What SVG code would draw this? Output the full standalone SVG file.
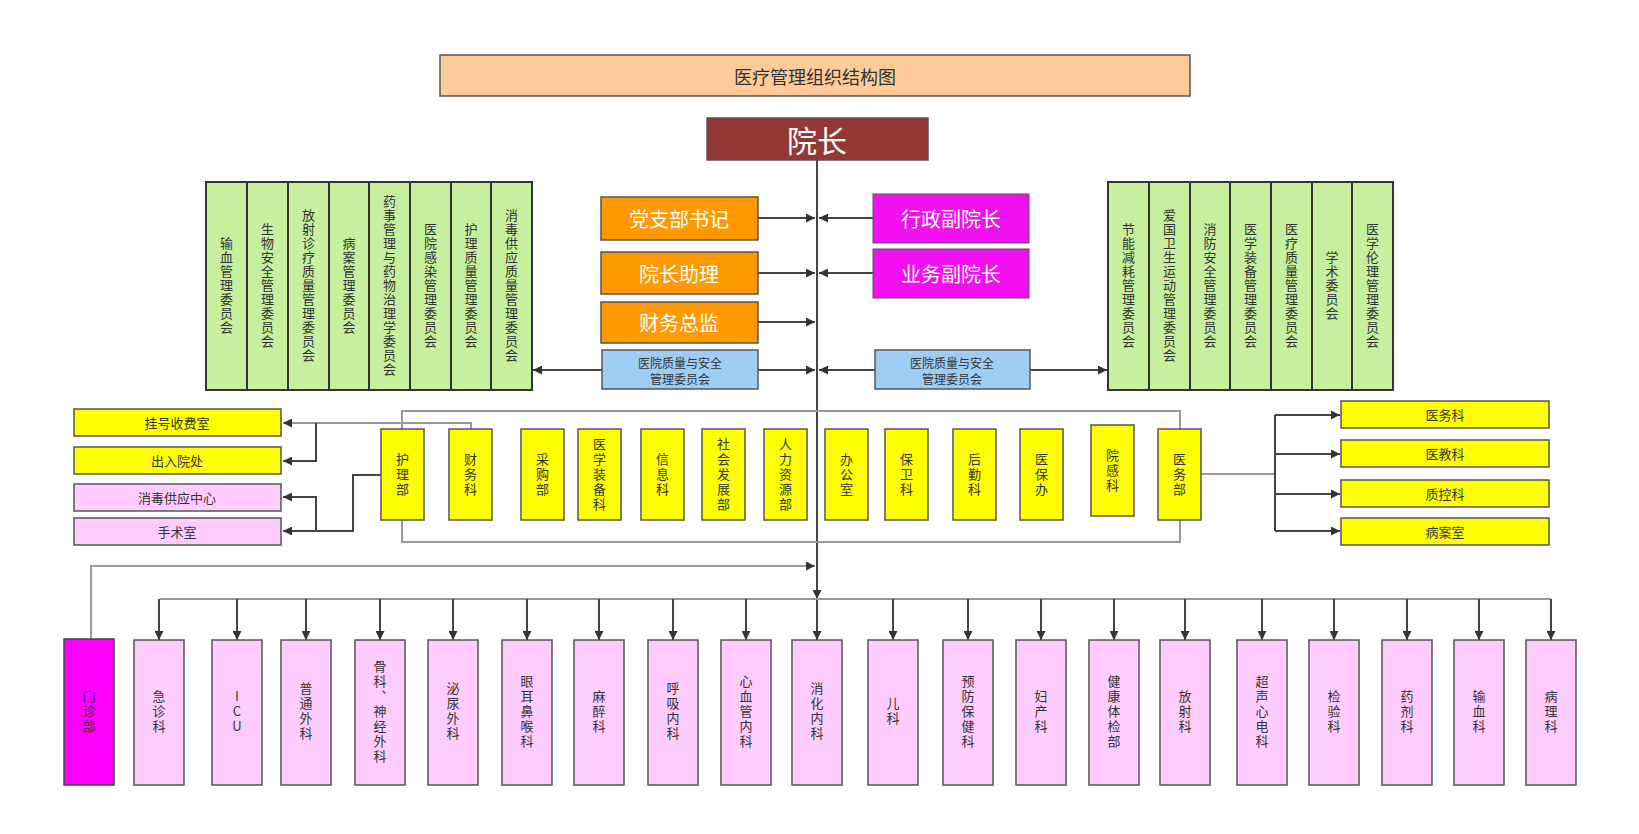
<svg xmlns="http://www.w3.org/2000/svg" width="1639" height="834" viewBox="0 0 1639 834">
<defs>
<style>
text{font-family:"Noto Sans CJK SC","Liberation Sans",sans-serif;text-anchor:middle;dominant-baseline:central;fill:#333}
.s13{font-size:13px}
.s12{font-size:12px}
.vg{font-size:13px;writing-mode:vertical-rl;text-orientation:upright;letter-spacing:1px}
.vy{font-size:13px;writing-mode:vertical-rl;text-orientation:upright;letter-spacing:2px}
.big{font-size:20px;fill:#fff}
.box{stroke:#555;stroke-width:1.5}
.grn{fill:#C6EF9E;stroke:#333;stroke-width:2}
.yel{fill:#FFFF00;stroke:#555;stroke-width:1.5}
.pnk{fill:#FFCCFF;stroke:#555;stroke-width:1.5}
.org{fill:#FF9900;stroke:#555;stroke-width:1.5}
.mag{fill:#F010F0;stroke:#555;stroke-width:1}
.blu{fill:#9DCDF2;stroke:#555;stroke-width:1.5}
.ln{fill:none;stroke:#444;stroke-width:2}
.gl{fill:none;stroke:#999;stroke-width:2}
.ar{marker-end:url(#ah)}
</style>
<marker id="ah" viewBox="0 0 10 10" refX="10" refY="5" markerWidth="11" markerHeight="9" markerUnits="userSpaceOnUse" orient="auto"><path d="M0,0 L10,5 L0,10 z" fill="#333"/></marker>
</defs>
<rect width="1639" height="834" fill="#fff"/>

<g id="connectors">
<path class="ln ar" d="M817,160 V599"/>
<path class="ln ar" d="M817,599 V640"/>
<path class="ln ar" d="M758,218 H815"/>
<path class="ln ar" d="M758,273 H815"/>
<path class="ln ar" d="M758,322 H815"/>
<path class="ln ar" d="M873,218 H819"/>
<path class="ln ar" d="M873,273 H819"/>
<path class="ln ar" d="M758,370 H815"/>
<path class="ln ar" d="M875,370 H819"/>
<path class="ln ar" d="M602,370 H533"/>
<path class="ln ar" d="M1030,370 H1107"/>
<path class="gl ar" d="M91,639 V566 H815"/>
<path class="gl" d="M160,599 H1551"/>
<path class="gl" d="M402,429 V411 H1180 V429"/>
<path class="gl" d="M402,520 V542 H1180 V520"/>
<path class="gl ar" d="M471,429 V423 H283"/>
<path class="ln ar" d="M316,423 V461 H283"/>
<path class="ln ar" d="M381,475 H353 V531 H283"/>
<path class="ln ar" d="M316,531 V497 H283"/>
<path class="gl" d="M1201,474 H1275"/>
<path class="ln" d="M1275,415 V531"/>
<path class="ln ar" d="M1275,415 H1340"/>
<path class="ln ar" d="M1275,454 H1340"/>
<path class="ln ar" d="M1275,494 H1340"/>
<path class="ln ar" d="M1275,531 H1340"/>
<path class="ln ar" d="M159,599 V640"/>
<path class="ln ar" d="M237,599 V640"/>
<path class="ln ar" d="M306,599 V640"/>
<path class="ln ar" d="M380,599 V640"/>
<path class="ln ar" d="M453,599 V640"/>
<path class="ln ar" d="M527,599 V640"/>
<path class="ln ar" d="M599,599 V640"/>
<path class="ln ar" d="M673,599 V640"/>
<path class="ln ar" d="M746,599 V640"/>
<path class="ln ar" d="M893,599 V640"/>
<path class="ln ar" d="M968,599 V640"/>
<path class="ln ar" d="M1041,599 V640"/>
<path class="ln ar" d="M1114,599 V640"/>
<path class="ln ar" d="M1185,599 V640"/>
<path class="ln ar" d="M1262,599 V640"/>
<path class="ln ar" d="M1334,599 V640"/>
<path class="ln ar" d="M1407,599 V640"/>
<path class="ln ar" d="M1479,599 V640"/>
<path class="ln ar" d="M1551,599 V640"/>
</g>

<g id="title"><rect x="440" y="55" width="750" height="41" fill="#FFCC99" class="box"/><text x="815" y="76" style="font-size:18px">医疗管理组织结构图</text></g>
<g id="president"><rect x="707" y="118" width="221" height="42" fill="#953735" class="box"/><text x="817" y="139" style="font-size:30px;fill:#fff">院长</text></g>

<g id="party"><rect x="601" y="197" width="157" height="43" class="org"/><text x="679" y="218" class="big">党支部书记</text></g>
<g id="assistant"><rect x="601" y="252" width="157" height="42" class="org"/><text x="679" y="273" class="big">院长助理</text></g>
<g id="cfo"><rect x="601" y="302" width="157" height="41" class="org"/><text x="679" y="322" class="big">财务总监</text></g>
<g id="vp-admin"><rect x="873" y="194" width="156" height="49" class="mag"/><text x="951" y="218" class="big">行政副院长</text></g>
<g id="vp-med"><rect x="873" y="249" width="156" height="49" class="mag"/><text x="951" y="273" class="big">业务副院长</text></g>
<g id="qs-left"><rect x="602" y="350" width="156" height="39" class="blu"/><text x="680" y="362" class="s12">医院质量与安全</text><text x="680" y="378" class="s12">管理委员会</text></g>
<g id="qs-right"><rect x="875" y="350" width="155" height="39" class="blu"/><text x="952" y="362" class="s12">医院质量与安全</text><text x="952" y="378" class="s12">管理委员会</text></g>

<g id="committees-left">
<rect x="206" y="182" width="41" height="208" class="grn"/>
<rect x="247" y="182" width="41" height="208" class="grn"/>
<rect x="288" y="182" width="41" height="208" class="grn"/>
<rect x="329" y="182" width="40" height="208" class="grn"/>
<rect x="369" y="182" width="41" height="208" class="grn"/>
<rect x="410" y="182" width="41" height="208" class="grn"/>
<rect x="451" y="182" width="40" height="208" class="grn"/>
<rect x="491" y="182" width="41" height="208" class="grn"/>
<text class="vg" x="226.5" y="286">输血管理委员会</text>
<text class="vg" x="267.5" y="286">生物安全管理委员会</text>
<text class="vg" x="308.5" y="286">放射诊疗质量管理委员会</text>
<text class="vg" x="349" y="286">病案管理委员会</text>
<text class="vg" x="389.5" y="286">药事管理与药物治理学委员会</text>
<text class="vg" x="430.5" y="286">医院感染管理委员会</text>
<text class="vg" x="471" y="286">护理质量管理委员会</text>
<text class="vg" x="511.5" y="286">消毒供应质量管理委员会</text>
</g>

<g id="committees-right">
<rect x="1108" y="182" width="41" height="208" class="grn"/>
<rect x="1149" y="182" width="41" height="208" class="grn"/>
<rect x="1190" y="182" width="40" height="208" class="grn"/>
<rect x="1230" y="182" width="41" height="208" class="grn"/>
<rect x="1271" y="182" width="41" height="208" class="grn"/>
<rect x="1312" y="182" width="40" height="208" class="grn"/>
<rect x="1352" y="182" width="41" height="208" class="grn"/>
<text class="vg" x="1128.5" y="286">节能减耗管理委员会</text>
<text class="vg" x="1169.5" y="286">爱国卫生运动管理委员会</text>
<text class="vg" x="1210" y="286">消防安全管理委员会</text>
<text class="vg" x="1250.5" y="286">医学装备管理委员会</text>
<text class="vg" x="1291.5" y="286">医疗质量管理委员会</text>
<text class="vg" x="1332" y="286">学术委员会</text>
<text class="vg" x="1372.5" y="286">医学伦理管理委员会</text>
</g>

<g id="reg"><rect x="74" y="409" width="207" height="27" class="yel"/><text x="177" y="422.5" class="s13">挂号收费室</text></g>
<g id="admission"><rect x="74" y="447" width="207" height="27" class="yel"/><text x="177" y="460.5" class="s13">出入院处</text></g>
<g id="sterile"><rect x="74" y="484" width="207" height="27" class="pnk"/><text x="177" y="497.5" class="s13">消毒供应中心</text></g>
<g id="surgery"><rect x="74" y="518" width="207" height="27" class="pnk"/><text x="177" y="531.5" class="s13">手术室</text></g>

<g id="d-nursing"><rect x="381" y="429" width="43" height="91" class="yel"/><text class="vy" x="402.5" y="475">护理部</text></g>
<g id="d-finance"><rect x="449" y="429" width="43" height="91" class="yel"/><text class="vy" x="470.5" y="475">财务科</text></g>
<g id="d-purchase"><rect x="521" y="429" width="43" height="91" class="yel"/><text class="vy" x="542.5" y="475">采购部</text></g>
<g id="d-equip"><rect x="578" y="429" width="43" height="91" class="yel"/><text class="vy" x="599.5" y="475">医学装备科</text></g>
<g id="d-info"><rect x="641" y="429" width="43" height="91" class="yel"/><text class="vy" x="662.5" y="475">信息科</text></g>
<g id="d-social"><rect x="702" y="429" width="43" height="91" class="yel"/><text class="vy" x="723.5" y="475">社会发展部</text></g>
<g id="d-hr"><rect x="764" y="429" width="43" height="91" class="yel"/><text class="vy" x="785.5" y="475">人力资源部</text></g>
<g id="d-office"><rect x="825" y="429" width="43" height="91" class="yel"/><text class="vy" x="846.5" y="475">办公室</text></g>
<g id="d-security"><rect x="885" y="429" width="43" height="91" class="yel"/><text class="vy" x="906.5" y="475">保卫科</text></g>
<g id="d-logistics"><rect x="953" y="429" width="43" height="91" class="yel"/><text class="vy" x="974.5" y="475">后勤科</text></g>
<g id="d-insurance"><rect x="1020" y="429" width="43" height="91" class="yel"/><text class="vy" x="1041.5" y="475">医保办</text></g>
<g id="d-infection"><rect x="1091" y="425" width="43" height="91" class="yel"/><text class="vy" x="1112.5" y="471">院感科</text></g>
<g id="d-medical"><rect x="1158" y="429" width="43" height="91" class="yel"/><text class="vy" x="1179.5" y="475">医务部</text></g>

<g id="r-medaffairs"><rect x="1341" y="401" width="208" height="27" class="yel"/><text x="1445" y="414.5" class="s13">医务科</text></g>
<g id="r-edu"><rect x="1341" y="440" width="208" height="27" class="yel"/><text x="1445" y="453.5" class="s13">医教科</text></g>
<g id="r-qc"><rect x="1341" y="480" width="208" height="27" class="yel"/><text x="1445" y="493.5" class="s13">质控科</text></g>
<g id="r-records"><rect x="1341" y="518" width="208" height="27" class="yel"/><text x="1445" y="531.5" class="s13">病案室</text></g>

<g id="b-outpatient"><rect x="64" y="639" width="50" height="146" fill="#FF00FF" stroke="#444" stroke-width="1.5"/><text class="vy" x="89" y="712">门诊部</text></g>
<g id="b-er"><rect x="134" y="640" width="50" height="145" class="pnk"/><text class="vy" x="159" y="712">急诊科</text></g>
<g id="b-icu"><rect x="212" y="640" width="50" height="145" class="pnk"/><text class="vy" x="237" y="712">ICU</text></g>
<g id="b-gensurg"><rect x="281" y="640" width="50" height="145" class="pnk"/><text class="vy" x="306" y="712">普通外科</text></g>
<g id="b-ortho"><rect x="355" y="640" width="50" height="145" class="pnk"/><text class="vy" x="380" y="712">骨科、神经外科</text></g>
<g id="b-uro"><rect x="428" y="640" width="50" height="145" class="pnk"/><text class="vy" x="453" y="712">泌尿外科</text></g>
<g id="b-ent"><rect x="502" y="640" width="50" height="145" class="pnk"/><text class="vy" x="527" y="712">眼耳鼻喉科</text></g>
<g id="b-anes"><rect x="574" y="640" width="50" height="145" class="pnk"/><text class="vy" x="599" y="712">麻醉科</text></g>
<g id="b-resp"><rect x="648" y="640" width="50" height="145" class="pnk"/><text class="vy" x="673" y="712">呼吸内科</text></g>
<g id="b-cardio"><rect x="721" y="640" width="50" height="145" class="pnk"/><text class="vy" x="746" y="712">心血管内科</text></g>
<g id="b-gastro"><rect x="792" y="640" width="50" height="145" class="pnk"/><text class="vy" x="817" y="712">消化内科</text></g>
<g id="b-peds"><rect x="868" y="640" width="50" height="145" class="pnk"/><text class="vy" x="893" y="712">儿科</text></g>
<g id="b-prev"><rect x="943" y="640" width="50" height="145" class="pnk"/><text class="vy" x="968" y="712">预防保健科</text></g>
<g id="b-obgyn"><rect x="1016" y="640" width="50" height="145" class="pnk"/><text class="vy" x="1041" y="712">妇产科</text></g>
<g id="b-checkup"><rect x="1089" y="640" width="50" height="145" class="pnk"/><text class="vy" x="1114" y="712">健康体检部</text></g>
<g id="b-radio"><rect x="1160" y="640" width="50" height="145" class="pnk"/><text class="vy" x="1185" y="712">放射科</text></g>
<g id="b-us"><rect x="1237" y="640" width="50" height="145" class="pnk"/><text class="vy" x="1262" y="712">超声心电科</text></g>
<g id="b-lab"><rect x="1309" y="640" width="50" height="145" class="pnk"/><text class="vy" x="1334" y="712">检验科</text></g>
<g id="b-pharm"><rect x="1382" y="640" width="50" height="145" class="pnk"/><text class="vy" x="1407" y="712">药剂科</text></g>
<g id="b-blood"><rect x="1454" y="640" width="50" height="145" class="pnk"/><text class="vy" x="1479" y="712">输血科</text></g>
<g id="b-path"><rect x="1526" y="640" width="50" height="145" class="pnk"/><text class="vy" x="1551" y="712">病理科</text></g>
</svg>
